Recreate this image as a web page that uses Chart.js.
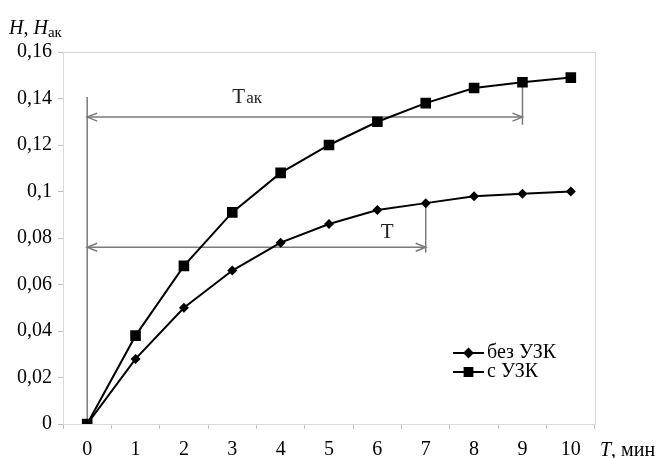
<!DOCTYPE html>
<html lang="ru">
<head>
    <meta charset="UTF-8">
    <title>H, Hак</title>
    <script src="https://cdn.jsdelivr.net/npm/chart.js"></script>
    <style>
        body {
            margin: 0;
            background: #fff;
        }

        #wrap {
            width: 668px;
            height: 458px;
        }
    </style>
</head>
<body>
    <div id="wrap"><canvas id="hChart"></canvas></div>

    <script>
        // данные с графика
        const times = ['0', '1', '2', '3', '4', '5', '6', '7', '8', '9', '10'];
        const withoutUzk = [0, 0.028, 0.050, 0.066, 0.078, 0.086, 0.092, 0.095, 0.098, 0.099, 0.100];
        const withUzk = [0, 0.038, 0.068, 0.091, 0.108, 0.120, 0.130, 0.138, 0.1445, 0.147, 0.149];
        const yTicks = [0, 0.02, 0.04, 0.06, 0.08, 0.1, 0.12, 0.14, 0.16];
        const seriesNames = ['без УЗК', 'с УЗК'];

        // стрелки T и Tак (в единицах графика)
        const arrowTak = { y: 0.132, from: 0, to: 9, top: 0.147, bottom: 0.1287 };
        const arrowT = { y: 0.076, from: 0, to: 7, top: 0.095, bottom: 0.0737 };
        const startLine = { x: 0, from: 0, to: 0.1406 };
        // подписи стрелок: левый край и базовая линия
        const takLabel = { main: 'T', sub: 'ак', x: 3.0, y: 0.138 };
        const tLabel = { main: 'T', sub: '', x: 6.07, y: 0.080 };

        const serif = "'Liberation Serif', 'Times New Roman', serif";
        const arrowColor = '#7a7a7a';

        function fmt(v) {
            return String(parseFloat(v.toFixed(2))).replace('.', ',');
        }

        function arrowHead(ctx, x, y, dir) {
            ctx.beginPath();
            ctx.moveTo(x + dir * 10, y - 4);
            ctx.lineTo(x, y);
            ctx.lineTo(x + dir * 10, y + 4);
            ctx.stroke();
        }

        const extras = {
            id: 'extras',
            beforeDatasetsDraw(chart) {
                const ctx = chart.ctx;
                const xs = chart.scales.x;
                const ys = chart.scales.y;
                const a = chart.chartArea;

                ctx.save();
                // рамка области построения
                ctx.strokeStyle = '#d9d9d9';
                ctx.lineWidth = 1;
                ctx.strokeRect(a.left + 0.5, a.top + 0.5, a.right - a.left, a.bottom - a.top);

                ctx.strokeStyle = arrowColor;
                ctx.lineWidth = 1.5;

                // вертикаль в нуле
                const x0 = xs.getPixelForValue(startLine.x);
                ctx.beginPath();
                ctx.moveTo(x0, ys.getPixelForValue(startLine.from));
                ctx.lineTo(x0, ys.getPixelForValue(startLine.to));
                ctx.stroke();

                [arrowTak, arrowT].forEach(ar => {
                    const y = ys.getPixelForValue(ar.y);
                    const xa = xs.getPixelForValue(ar.from);
                    const xb = xs.getPixelForValue(ar.to);
                    ctx.beginPath();
                    ctx.moveTo(xa, y);
                    ctx.lineTo(xb, y);
                    ctx.stroke();
                    arrowHead(ctx, xa, y, 1);
                    arrowHead(ctx, xb, y, -1);
                    ctx.beginPath();
                    ctx.moveTo(xb, ys.getPixelForValue(ar.top));
                    ctx.lineTo(xb, ys.getPixelForValue(ar.bottom));
                    ctx.stroke();
                });

                ctx.fillStyle = '#222';
                ctx.textAlign = 'left';
                ctx.textBaseline = 'alphabetic';
                [takLabel, tLabel].forEach(l => {
                    const lx = xs.getPixelForValue(l.x);
                    const ly = ys.getPixelForValue(l.y);
                    ctx.font = '21px ' + serif;
                    ctx.fillText(l.main, lx, ly);
                    if (l.sub) {
                        ctx.font = '17px ' + serif;
                        ctx.fillText(l.sub, lx + 14, ly);
                    }
                });
                ctx.restore();
            },
            afterDraw(chart) {
                const ctx = chart.ctx;
                ctx.save();
                ctx.fillStyle = '#000';
                ctx.textBaseline = 'alphabetic';
                ctx.textAlign = 'left';

                // подпись оси Y: H, Hак
                let x = 9;
                ctx.font = 'italic 20px ' + serif;
                ctx.fillText('H', x, 34);
                x += ctx.measureText('H').width;
                ctx.font = '20px ' + serif;
                ctx.fillText(', ', x, 34);
                x += ctx.measureText(', ').width;
                ctx.font = 'italic 20px ' + serif;
                ctx.fillText('H', x, 34);
                x += ctx.measureText('H').width;
                ctx.font = '15px ' + serif;
                ctx.fillText('ак', x, 37);

                // подпись оси X: T, мин
                x = 600;
                ctx.font = 'italic 20px ' + serif;
                ctx.fillText('T', x, 456);
                x += ctx.measureText('T').width;
                ctx.font = '20px ' + serif;
                ctx.fillText(', мин', x, 456);

                // легенда
                const rows = [
                    { name: seriesNames[0], y: 353, style: 'rectRot', r: 4 },
                    { name: seriesNames[1], y: 372, style: 'rect', r: 5.5 }
                ];
                rows.forEach(row => {
                    ctx.strokeStyle = '#000';
                    ctx.lineWidth = 2;
                    ctx.beginPath();
                    ctx.moveTo(453, row.y);
                    ctx.lineTo(484, row.y);
                    ctx.stroke();
                    Chart.helpers.drawPoint(ctx, { pointStyle: row.style, radius: row.r, borderWidth: 1 }, 468.5, row.y);
                    ctx.fillStyle = '#000';
                    ctx.fill();
                    ctx.font = '20px ' + serif;
                    ctx.textBaseline = 'middle';
                    ctx.fillText(row.name, 487, row.y);
                });
                ctx.restore();
            }
        };

        const ctx = document.getElementById('hChart').getContext('2d');
        new Chart(ctx, {
            type: 'line',
            data: {
                labels: times,
                datasets: [
                    {
                        label: seriesNames[0],
                        data: withoutUzk,
                        borderColor: '#000',
                        backgroundColor: '#000',
                        borderWidth: 2,
                        pointStyle: 'rectRot',
                        pointRadius: 5,
                        pointBorderWidth: 0,
                        tension: 0
                    },
                    {
                        label: seriesNames[1],
                        data: withUzk,
                        borderColor: '#000',
                        backgroundColor: '#000',
                        borderWidth: 2,
                        pointStyle: 'rect',
                        pointRadius: 7.5,
                        pointBorderWidth: 0,
                        tension: 0
                    }
                ]
            },
            options: {
                responsive: true,
                maintainAspectRatio: false,
                animation: false,
                layout: {
                    padding: { top: 52, right: 73, left: 0, bottom: 0 }
                },
                plugins: {
                    legend: { display: false },
                    tooltip: { enabled: false }
                },
                scales: {
                    x: {
                        type: 'category',
                        offset: true,
                        grid: {
                            offset: true,
                            drawOnChartArea: false,
                            tickLength: 5,
                            color: '#bfbfbf'
                        },
                        border: { color: '#d9d9d9' },
                        ticks: {
                            color: '#000',
                            padding: 9,
                            maxRotation: 0,
                            autoSkip: false,
                            font: { family: serif, size: 20 }
                        },
                        afterFit(scale) {
                            scale.height = 34;
                        }
                    },
                    y: {
                        min: 0,
                        max: 0.16,
                        afterBuildTicks(scale) {
                            scale.ticks = yTicks.map(v => ({ value: v }));
                        },
                        grid: {
                            drawOnChartArea: false,
                            tickLength: 5,
                            color: '#bfbfbf'
                        },
                        border: { color: '#d9d9d9' },
                        ticks: {
                            color: '#000',
                            padding: 6,
                            font: { family: serif, size: 20 },
                            callback: v => fmt(v)
                        },
                        afterFit(scale) {
                            scale.width = 63;
                        }
                    }
                }
            },
            plugins: [extras]
        });
    </script>
</body>
</html>
